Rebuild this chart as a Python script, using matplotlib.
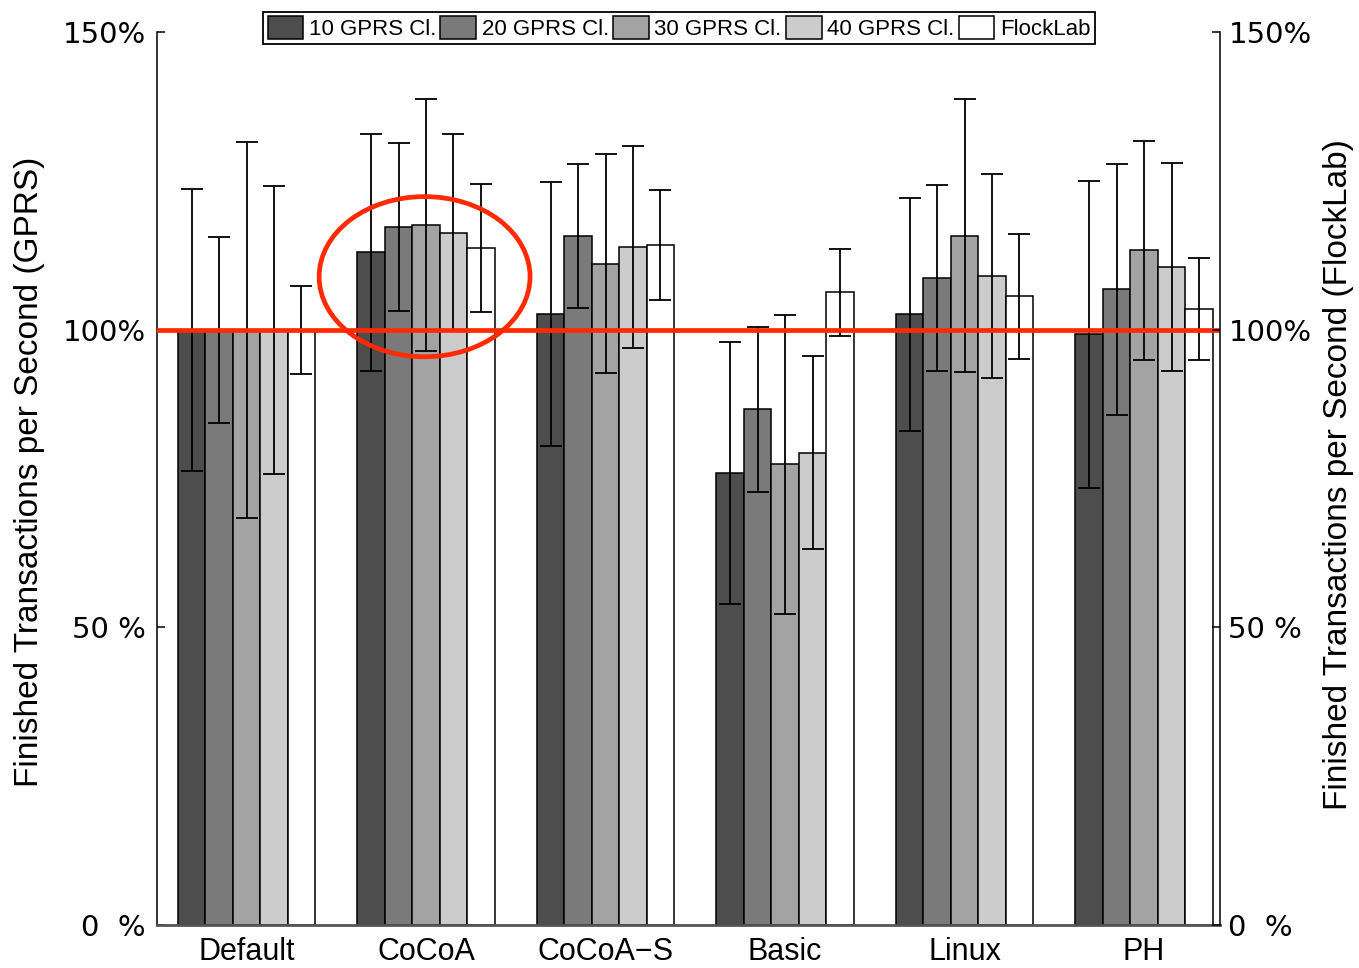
import numpy as np
import matplotlib.pyplot as plt
from matplotlib.patches import Ellipse

# data (percent of baseline)
groups = ["Default", "CoCoA", "CoCoA\u2212S", "Basic", "Linux", "PH"]
series = ["10 GPRS Cl.", "20 GPRS Cl.", "30 GPRS Cl.", "40 GPRS Cl.", "FlockLab"]

gprs10 = [100.0, 113.0, 102.6, 76.0, 102.6, 99.2]
gprs20 = [100.0, 117.3, 115.7, 86.6, 108.7, 106.8]
gprs30 = [100.0, 117.6, 111.1, 77.4, 115.8, 113.3]
gprs40 = [100.0, 116.3, 113.9, 79.3, 109.0, 110.5]
flocklab = [100.0, 113.7, 114.2, 106.3, 105.6, 103.5]

err10 = [23.7, 19.9, 22.2, 22.0, 19.6, 25.8]
err20 = [15.6, 14.1, 12.1, 13.8, 15.6, 21.1]
err30 = [31.6, 21.1, 18.4, 25.1, 22.9, 18.4]
err40 = [24.2, 16.6, 17.0, 16.2, 17.1, 17.5]
errfl = [7.4, 10.8, 9.3, 7.3, 10.5, 8.6]

vals = [gprs10, gprs20, gprs30, gprs40, flocklab]
errs = [err10, err20, err30, err40, errfl]
colors = ["#4d4d4d", "#7a7a7a", "#a3a3a3", "#cccccc", "#ffffff"]

yticks = [0, 50, 100, 150]
yticklabels = ["0  %", "50 %", "100%", "150%"]

red = "#ff2a00"

fig = plt.figure(figsize=(13.59, 9.68), dpi=100)
ax = fig.add_axes([157/1359, 1-925/968, (1220-157)/1359, (925-32)/968])

x = np.arange(len(groups))
w = 0.153
for j in range(5):
    pos = x + (j-2)*w
    ax.bar(pos, vals[j], w, color=colors[j], edgecolor="black", linewidth=1.1,
           label=series[j], zorder=2)
    ax.errorbar(pos, vals[j], yerr=errs[j], fmt="none", ecolor="black",
                elinewidth=1.3, capsize=8, capthick=1.3, zorder=3)

ax.axhline(100, color=red, lw=3.4, zorder=5)
ax.add_patch(Ellipse((0.992, 108.9), 1.175, 26.9, fill=False, edgecolor=red,
                     lw=3.4, zorder=6))

ax.set_xlim(-0.4986, 5.423)
ax.set_ylim(0, 150)
ax.set_xticks(x)
ax.set_xticklabels(groups, fontsize=22, family=["Liberation Sans", "DejaVu Sans"])
ax.tick_params(axis="x", length=0, pad=9)
ax.set_yticks(yticks)
ax.set_yticklabels(yticklabels, fontsize=21, family="DejaVu Sans")
ax.tick_params(axis="y", direction="in", length=6, width=1.1, pad=8)
ax.spines["top"].set_visible(False)
ax.spines["right"].set_visible(False)
ax.spines["left"].set_linewidth(1.1)
ax.spines["bottom"].set_linewidth(2)
ax.spines["bottom"].set_color("#555555")

ax2 = ax.twinx()
ax2.set_ylim(0, 150)
ax2.set_yticks(yticks)
ax2.set_yticklabels(yticklabels, fontsize=21, family="DejaVu Sans")
ax2.tick_params(axis="y", direction="in", length=6, width=1.1, pad=6)
for s in ["top", "left", "bottom"]:
    ax2.spines[s].set_visible(False)
ax2.spines["right"].set_linewidth(1.1)

fig.text(30/1359, 1-472/968, "Finished Transactions per Second (GPRS)", rotation=90,
         ha="center", va="center", fontsize=24, family="Liberation Sans")
fig.text(1338/1359, 1-475/968, "Finished Transactions per Second (FlockLab)", rotation=90,
         ha="center", va="center", fontsize=24, family="Liberation Sans")

h, l = ax.get_legend_handles_labels()
leg = fig.legend(h, l, loc="center", bbox_to_anchor=(679/1359, 1-28/968), ncol=5,
                 prop={"family": "Liberation Sans", "size": 16},
                 handlelength=1.6, handleheight=1.2, handletextpad=0.25,
                 columnspacing=0.2, borderpad=0.2, borderaxespad=0,
                 fancybox=False, edgecolor="black", framealpha=1)
leg.get_frame().set_linewidth(1.3)

fig.savefig("out.png", dpi=100)
